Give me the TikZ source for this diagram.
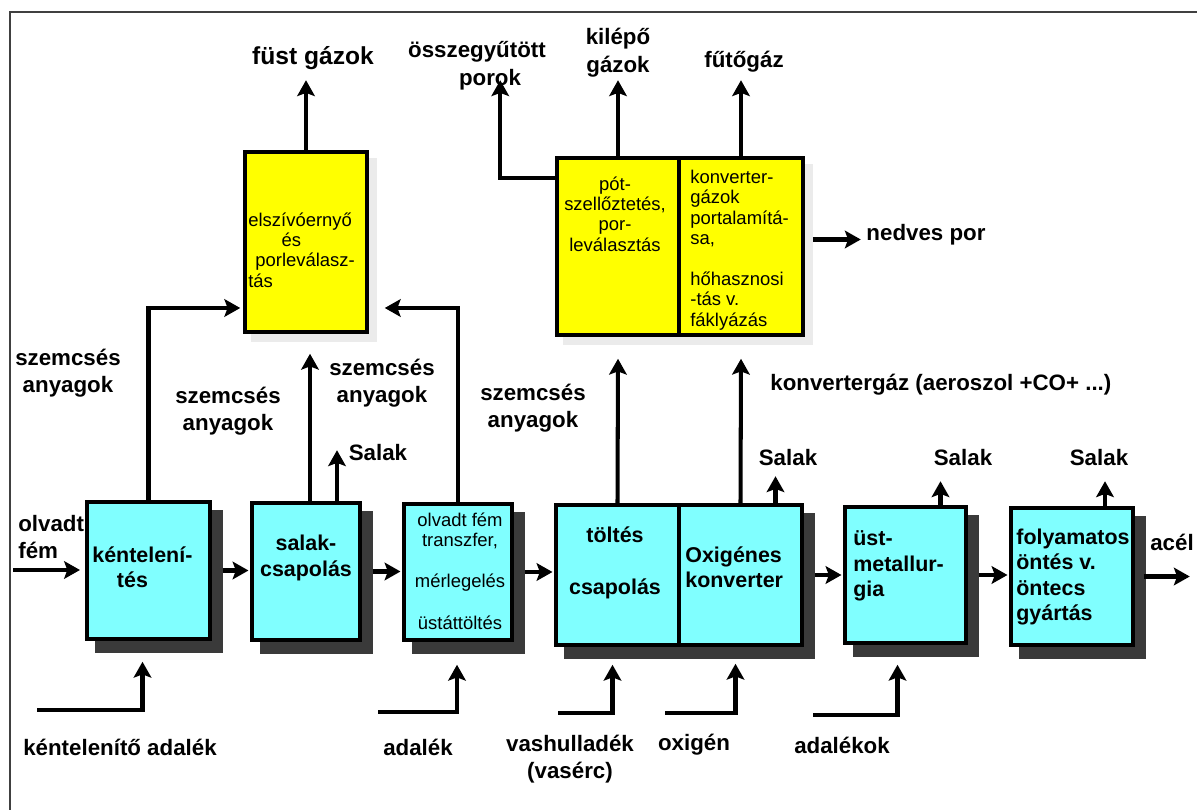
\documentclass[tikz,border=0pt]{standalone}
\usepackage{fontspec}
\setmainfont{Liberation Sans}
\usetikzlibrary{arrows.meta,calc,fit,backgrounds}
\definecolor{boxcyan}{HTML}{80FFFF}
\definecolor{boxyellow}{HTML}{FFFF00}
\definecolor{shade}{HTML}{3A3A3A}

\tikzset{
  arr/.style={line width=2.3pt, -{Stealth[length=9pt,width=10pt,inset=1.8pt]}},
  boxline/.style={draw, line width=2pt, inner sep=0pt},
  cyanbox/.style={boxline, fill=boxcyan},
  yellowbox/.style={boxline, fill=boxyellow},
  lbl/.style={font=\bfseries\fontsize{12.7}{15.3}\selectfont, inner sep=0pt},
  boxbold/.style={font=\bfseries\fontsize{12.2}{14.5}\selectfont, inner sep=0pt},
  boxthin/.style={font=\fontsize{10.5}{11.6}\selectfont, inner sep=0pt},
  cshadow/.style={fill=shade},
  yshadow/.style={fill=black!8},
}

\begin{document}
\begin{tikzpicture}[x=0.02cm, y=-0.02cm]
\useasboundingbox (0,0) rectangle (1197,810);

% outer frame (top and left edges)
\draw[line width=1.1pt, black!75] (10,810) -- (10,12) -- (1197,12);

% ---------- process boxes ----------
\node[yellowbox, fit={(245,152) (367,332)}] (y1) {};
\node[yellowbox, fit={(557,158) (679,335)}] (yl) {};
\node[yellowbox, fit={(679,158) (803,335)}] (yr) {};
\node[cyanbox, fit={(87,502) (210,639)}] (b1) {};
\node[cyanbox, fit={(252,503) (360,640)}] (b2) {};
\node[cyanbox, fit={(404,504) (512,640)}] (b3) {};
\node[cyanbox, fit={(556,505) (679,645)}] (b4l) {};
\node[cyanbox, fit={(679,505) (802,645)}] (b4r) {};
\node[cyanbox, fit={(845,507) (966,643)}] (b5) {};
\node[cyanbox, fit={(1011,508) (1133,645)}] (b6) {};

% drop shadows
\begin{scope}[on background layer]
  \fill[yshadow] ($(y1.south west)+(8,8)$) rectangle ($(y1.north east)+(8,8)$);
  \fill[yshadow] ($(yl.south west)+(8,8)$) rectangle ($(yr.north east)+(8,8)$);
  \fill[cshadow] ($(b1.south west)+(10,12)$) rectangle ($(b1.north east)+(11,10)$);
  \fill[cshadow] ($(b2.south west)+(10,12)$) rectangle ($(b2.north east)+(11,10)$);
  \fill[cshadow] ($(b3.south west)+(10,12)$) rectangle ($(b3.north east)+(11,10)$);
  \fill[cshadow] ($(b4l.south west)+(10,12)$) rectangle ($(b4r.north east)+(11,10)$);
  \fill[cshadow] ($(b5.south west)+(10,12)$) rectangle ($(b5.north east)+(11,10)$);
  \fill[cshadow] ($(b6.south west)+(10,12)$) rectangle ($(b6.north east)+(11,10)$);
\end{scope}

% ---------- box texts ----------
\node[boxthin, align=left, anchor=west] (ty1) at (248,250)
  {elszívóernyő\\\hspace*{19pt}és\\\hspace*{4pt}porleválasz-\\tás};
\node[boxthin, align=center] (tyl) at (615,214)
  {pót-\\szellőztetés,\\por-\\leválasztás};
\node[boxthin, align=left, anchor=west] (tyr) at (690,250)
  {konverter-\\gázok\\portalamítá-\\sa,\\\mbox{}\\hőhasznosi\\-tás v.\\fáklyázás};
\node[boxbold, align=left, anchor=west] (tb1) at (92,567)
  {kéntelení-\\\hspace*{14pt}tés};
\node[boxbold, align=center] (tb2) at (306,558) {salak-\\csapolás};
\node[boxthin, align=center] (tb3) at (460,571)
  {olvadt fém\\transzfer,\\[12pt]mérlegelés\\[12pt]üstáttöltés};
\node[boxbold, align=center] (tb4l) at (615,563) {töltés\\[15.5pt]csapolás};
\node[boxbold, align=left, anchor=west] (tb4r) at (685,567) {Oxigénes\\konverter};
\node[boxbold, align=left, anchor=west] (tb5) at (853,566) {üst-\\metallur-\\gia};
\node[boxbold, align=left, anchor=west] (tb6) at (1016,577)
  {folyamatos\\öntés v.\\öntecs\\gyártás};

% ---------- free labels ----------
\node[lbl, font=\bfseries\fontsize{14}{16}\selectfont] (lfust) at (313,58) {füst gázok};
\node[lbl] (lossz1) at (477,52) {összegyűtött};
\node[lbl] (lossz2) at (490,80) {porok};
\node[lbl, align=center, font=\bfseries\fontsize{12.7}{16}\selectfont] (lkilep) at (618,53) {kilépő\\gázok};
\node[lbl] (lfuto) at (744,62) {fűtőgáz};
\node[lbl] (lnedv) at (926,235) {nedves por};
\node[lbl, align=center] (lsz1) at (68,373) {szemcsés\\anyagok};
\node[lbl, align=center] (lsz2) at (228,411) {szemcsés\\anyagok};
\node[lbl, align=center] (lsz3) at (382,383) {szemcsés\\anyagok};
\node[lbl, align=center] (lsz4) at (533,408) {szemcsés\\anyagok};
\node[lbl] (lsal1) at (378,453) {Salak};
\node[lbl, anchor=west] (lkonv) at (770,385) {konvertergáz (aeroszol +CO+ ...)};
\node[lbl] (lsal2) at (788,458) {Salak};
\node[lbl] (lsal3) at (963,458) {Salak};
\node[lbl] (lsal4) at (1099,458) {Salak};
\node[lbl] (lacel) at (1172,542) {acél};
\node[lbl, align=left, anchor=west] (lolv) at (18,537) {olvadt\\fém};
\node[lbl] (lken) at (120,747) {kéntelenítő adalék};
\node[lbl] (ladal) at (418,747) {adalék};
\node[lbl, align=center] (lvas) at (570,759) {vashulladék\\(vasérc)};
\node[lbl] (loxi) at (694,745) {oxigén};
\node[lbl] (ladk) at (842,745) {adalékok};

% ---------- free ends of input lines ----------
\coordinate (src) at (13,570);
\coordinate (i1) at (37,710);
\coordinate (i2) at (378,712);
\coordinate (i3) at (558,713);
\coordinate (i4) at (665,713);
\coordinate (i5) at (813,715);

% ---------- main line ----------
\draw[arr, shorten >=3pt] (src) -- (b1.west |- src);
\draw[arr, shorten >=1pt] ($(b1.east)+(11,0)$) -- (b2.west |- b1.east);
\draw[arr, shorten >=1pt] ($(b2.east)+(11,0)$) -- (b3.west |- b2.east);
\draw[arr, shorten >=1pt] ($(b3.east)+(11,0)$) -- (b4l.west |- b3.east);
\draw[arr, shorten >=1pt] ($(b4r.east)+(11,0)$) -- (b5.west |- b4r.east);
\draw[arr, shorten >=1pt] ($(b5.east)+(11,0)$) -- (b6.west |- b5.east);
\draw[arr] ($(b6.east)+(9,0)$) -- ++(46,0);

% ---------- dust and gas streams ----------
\draw[arr] (b1.north) |- ($(y1.west)+(-3,66)$);
\draw[arr] ($(b2.north)+(4,0)$) -- ($(y1.south)+(4,20)$);
\draw[arr] (b3.north) |- ($(y1.east)+(16,66)$);
\draw[arr] ($(b2.north)+(31,0)$) -- ++(0,-51);
\draw[arr] (y1.north) -- ++(0,-70);
\draw[arr] ($(yl.north west)+(0,22)$) -- ++(-55,0) -- ++(0,-98);
\draw[arr] (yl.north) -- ++(0,-76);
\draw[arr] (yr.north) -- ++(0,-76);
\draw[arr] ($(yr.east)+(8,-7)$) -- ++(48,0);
\draw[arr] (b4l.north) -- ($(yl.south)+(0,22)$);
\draw[arr] (b4r.north) -- ($(yr.south)+(0,22)$);
\draw[arr] ($(b4r.north)+(35,0)$) -- ++(0,-27);
\draw[arr] ($(b5.north)+(35,0)$) -- ++(0,-24);
\draw[arr] ($(b6.north)+(33,0)$) -- ++(0,-25);

% ---------- additions from below ----------
\draw[arr] (i1) -| ($(b1.south)+(-6,21)$);
\draw[arr] (i2) -| ($(b3.south)+(-1,23)$);
\draw[arr] (i3) -| ($(b4l.south)+(-5,18)$);
\draw[arr] (i4) -| ($(b4r.south)+(-5,17)$);
\draw[arr] (i5) -| ($(b5.south)+(-8,20)$);
\end{tikzpicture}
\end{document}
